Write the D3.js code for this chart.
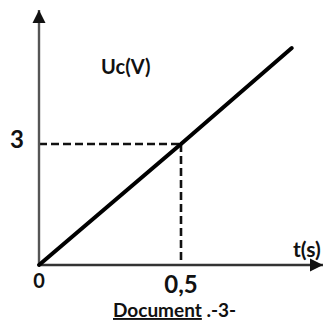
<!DOCTYPE html>
<html>
<head>
<meta charset="utf-8">
<script src="https://cdn.jsdelivr.net/npm/d3@7"></script>
<style>
  body { margin: 0; background: #fff; }
  text { font-family: Lato, "Open Sans", sans-serif; font-weight: bold; fill: #111; }
</style>
</head>
<body>
<script>
// values
var times = [0, 0.5, 0.89];      // t (s)
var voltages = [0, 3, 5.38];     // Uc (V)
var markT = [0.5];               // dashed guide on t
var markU = [3];                 // dashed guide on Uc
var tickLabels = ["0", "0,5"];

window.onload = function(){

    var w = 323, h = 322;

    var svg = d3.select("body")
        .append("svg")
        .attr("width", w)
        .attr("height", h);

    // origin sits at (39,265)
    var x = d3.scaleLinear()
        .domain([0, 1])
        .range([39, 323]);

    var y = d3.scaleLinear()
        .domain([0, 3])
        .range([265, 144]);

    var pts = times.map(function(t, i){ return [t, voltages[i]]; });

    // arrow heads
    var defs = svg.append("defs");
    defs.append("marker")
        .attr("id", "arrow")
        .attr("viewBox", "0 0 10 10")
        .attr("refX", 10)
        .attr("refY", 5)
        .attr("markerWidth", 5.5)
        .attr("markerHeight", 5.5)
        .attr("markerUnits", "strokeWidth")
        .attr("orient", "auto")
        .append("path")
        .attr("d", "M0,0 L10,5 L0,10 z")
        .style("fill", "#111");

    // dashed guides
    svg.append("line")
        .attr("x1", x(0)).attr("y1", y(markU[0]))
        .attr("x2", x(markT[0])).attr("y2", y(markU[0]))
        .style("stroke", "#111")
        .style("stroke-width", 2.6)
        .style("stroke-dasharray", "8,4");

    svg.append("line")
        .attr("x1", x(markT[0])).attr("y1", y(markU[0]))
        .attr("x2", x(markT[0])).attr("y2", y(0))
        .style("stroke", "#111")
        .style("stroke-width", 2.6)
        .style("stroke-dasharray", "8,4");

    // axes
    svg.append("line")
        .attr("x1", x(0)).attr("y1", y(0))
        .attr("x2", x(0)).attr("y2", 10)
        .style("stroke", "#555")
        .style("stroke-width", 2.4)
        .attr("marker-end", "url(#arrow)");

    svg.append("line")
        .attr("x1", x(0)).attr("y1", y(0))
        .attr("x2", x(1)).attr("y2", y(0))
        .style("stroke", "#333")
        .style("stroke-width", 2.4)
        .attr("marker-end", "url(#arrow)");

    // Uc(t) line
    var line = d3.line()
        .x(function(d){ return x(d[0]); })
        .y(function(d){ return y(d[1]); });

    svg.append("path")
        .datum(pts)
        .attr("d", line)
        .style("fill", "none")
        .style("stroke", "#000")
        .style("stroke-width", 4)
        .style("stroke-linecap", "round");

    // tick labels
    svg.append("text")
        .attr("x", x(0)).attr("y", 288)
        .attr("text-anchor", "middle")
        .style("font-size", "20px")
        .text(tickLabels[0]);

    svg.append("text")
        .attr("x", x(markT[0])).attr("y", 293)
        .attr("text-anchor", "middle")
        .style("font-size", "24px")
        .text(tickLabels[1]);

    svg.append("text")
        .attr("x", 17).attr("y", y(markU[0]) + 4)
        .attr("text-anchor", "middle")
        .style("font-size", "24px")
        .text(markU[0]);

    // axis titles
    svg.append("text")
        .attr("x", 101).attr("y", 74)
        .style("font-size", "20px")
        .text("Uc(V)");

    svg.append("text")
        .attr("x", 293).attr("y", 257)
        .style("font-size", "21px")
        .text("t(s)");

    // caption
    var cap = svg.append("text")
        .attr("x", 113).attr("y", 317)
        .style("font-size", "19px");
    cap.append("tspan")
        .style("text-decoration", "underline")
        .text("Document");
    cap.append("tspan")
        .text(" .-3-");
};
</script>
</body>
</html>
